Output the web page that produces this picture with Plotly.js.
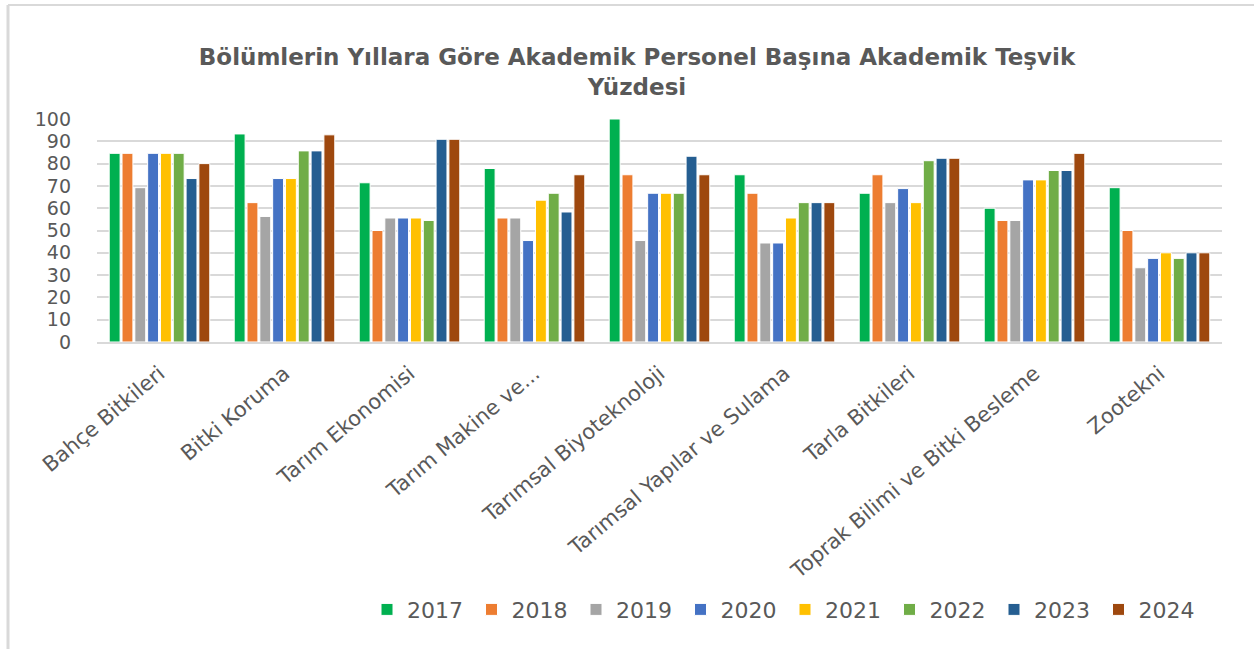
<!DOCTYPE html>
<html>
<head>
<meta charset="utf-8">
<script src="https://cdn.plot.ly/plotly-3.0.1.min.js"></script>
<style>html,body{margin:0;padding:0;background:#fff;}#chart{width:1254px;height:649px;}</style>
</head>
<body>
<div id="chart"></div>
<script>
const categories = ["Bahçe Bitkileri", "Bitki Koruma", "Tarım Ekonomisi", "Tarım Makine ve...", "Tarımsal Biyoteknoloji", "Tarımsal Yapılar ve Sulama", "Tarla Bitkileri", "Toprak Bilimi ve Bitki Besleme", "Zootekni"];
const years = ["2017", "2018", "2019", "2020", "2021", "2022", "2023", "2024"];
const v2017 = [84.6, 93.3, 71.4, 77.8, 100, 75, 66.7, 60, 69.2];
const v2018 = [84.6, 62.5, 50, 55.6, 75, 66.7, 75, 54.5, 50];
const v2019 = [69.2, 56.3, 55.6, 55.6, 45.5, 44.4, 62.5, 54.5, 33.3];
const v2020 = [84.6, 73.3, 55.6, 45.5, 66.7, 44.4, 68.8, 72.7, 37.5];
const v2021 = [84.6, 73.3, 55.6, 63.6, 66.7, 55.6, 62.5, 72.7, 40];
const v2022 = [84.6, 85.7, 54.5, 66.7, 66.7, 62.5, 81.3, 76.9, 37.5];
const v2023 = [73.3, 85.7, 90.9, 58.3, 83.3, 62.5, 82.4, 76.9, 40];
const v2024 = [80, 92.9, 90.9, 75, 75, 62.5, 82.4, 84.6, 40];
const seriesValues = [v2017, v2018, v2019, v2020, v2021, v2022, v2023, v2024];
const colors = ["#00b050", "#ed7d31", "#a5a5a5", "#4472c4", "#ffc000", "#70ad47", "#255e91", "#9e480e"];
const yTicks = [0, 10, 20, 30, 40, 50, 60, 70, 80, 90, 100];

const legendId = i => (i === 0 ? "legend" : "legend" + (i + 1));

const traces = years.map((y, i) => ({
  type: "bar",
  name: y,
  x: categories,
  y: seriesValues[i],
  legend: legendId(i),
  marker: { color: colors[i], line: { color: "#ffffff", width: 1 } },
  hoverinfo: "x+y+name"
}));

const gray = "#595959";
const layout = {
  width: 1254, height: 649,
  paper_bgcolor: "#ffffff", plot_bgcolor: "#ffffff",
  margin: { l: 97, r: 32, t: 119, b: 307 },
  barmode: "group", bargap: 0.18, bargroupgap: 0.15,
  font: { family: "DejaVu Sans, sans-serif", color: gray },
  title: {
    text: "Bölümlerin Yıllara Göre Akademik Personel Başına Akademik Teşvik<br>Yüzdesi",
    font: { family: "DejaVu Sans, sans-serif", size: 23, color: gray, weight: "bold" },
    x: 0.508, xanchor: "center", xref: "container",
    y: 0.9, yanchor: "middle", yref: "container"
  },
  xaxis: {
    type: "category",
    tickangle: -40,
    tickfont: { size: 21, color: gray, family: "DejaVu Sans, sans-serif" },
    showgrid: false, zeroline: false,
    showline: true, linecolor: "#d9d9d9", linewidth: 2,
    ticks: "", ticklabelstandoff: 9, automargin: false
  },
  yaxis: {
    range: [0, 100],
    tickvals: yTicks,
    ticktext: yTicks.map(String),
    tickfont: { size: 19, color: gray, family: "DejaVu Sans, sans-serif" },
    showgrid: true, gridcolor: "#d9d9d9", gridwidth: 2,
    zeroline: false, showline: false, ticks: "", ticklabelstandoff: 25,
    automargin: false
  },
  shapes: [
    { type: "line", xref: "paper", yref: "paper", x0: -0.0791, x1: -0.0791, y0: 1.511, y1: -1.41, line: { color: "#d9d9d9", width: 3 } },
    { type: "line", xref: "paper", yref: "paper", x0: -0.0791, x1: 1.03, y0: 1.511, y1: 1.511, line: { color: "#d9d9d9", width: 2 } }
  ],
  showlegend: true
};

years.forEach((y, i) => {
  layout[legendId(i)] = {
    orientation: "h",
    x: (367 + i * 104.5 - 97) / 1125, xanchor: "left",
    y: -1.2, yanchor: "middle",
    font: { size: 22, color: gray, family: "DejaVu Sans, sans-serif" },
    itemwidth: 30,
    bgcolor: "rgba(0,0,0,0)"
  };
});

Plotly.newPlot("chart", traces, layout, { displayModeBar: false, staticPlot: true });
</script>
</body>
</html>
